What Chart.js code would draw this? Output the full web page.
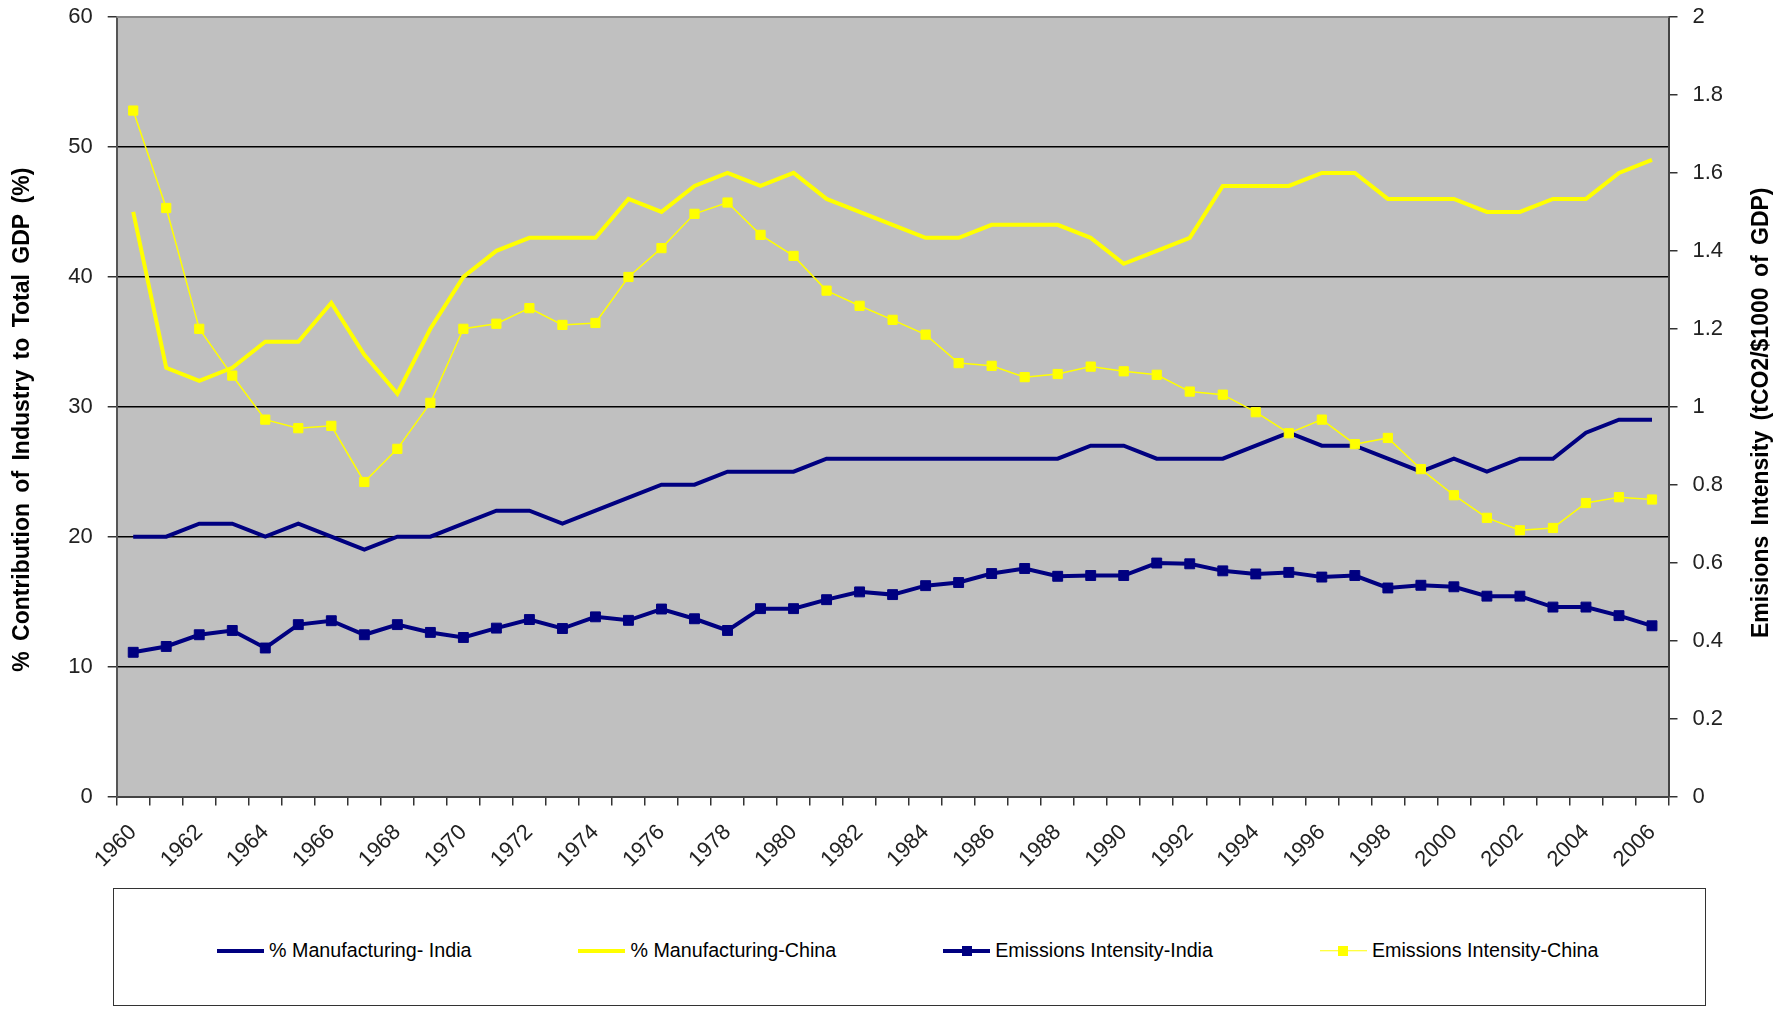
<!DOCTYPE html>
<html>
<head>
<meta charset="utf-8">
<script src="https://cdn.jsdelivr.net/npm/chart.js@4.4.1/dist/chart.umd.min.js"></script>
<style>
    body { margin: 0; background: #fff; font-family: "Liberation Sans", Arial, sans-serif; }
    #wrap { position: relative; width: 1790px; height: 1011px; overflow: hidden; }
    #chart { position: absolute; left: 0; top: 0; }
    #legend-box {
        position: absolute; left: 113px; top: 888px; width: 1593px; height: 118px;
        border: 1.5px solid #333; box-sizing: border-box;
    }
    #legend-items {
        position: absolute; left: 103px; top: 50px; display: flex; gap: 107px;
        align-items: center; font-size: 19.7px; color: #000;
    }
    .item { display: flex; align-items: center; white-space: nowrap; }
    .swatch { position: relative; width: 47px; height: 14px; margin-right: 5px; }
    .swatch .ln { position: absolute; left: 0; right: 0; top: 50%; transform: translateY(-50%); }
    .swatch .mk { position: absolute; left: 50%; top: 50%; width: 10px; height: 10px; transform: translate(-50%, -50%); }
</style>
</head>
<body>
<div id="wrap">
    <canvas id="chart" width="1790" height="880"></canvas>
    <div id="legend-box"><div id="legend-items"></div></div>
</div>
<script>
const years = [];
for (let y = 1960; y <= 2006; y++) years.push(String(y));

// % share of manufacturing in GDP (left axis)
const mfgIndia = [20, 20, 21, 21, 20, 21, 20, 19, 20, 20,
    21, 22, 22, 21, 22, 23, 24, 24, 25, 25,
    25, 26, 26, 26, 26, 26, 26, 26, 26, 27,
    27, 26, 26, 26, 27, 28, 27, 27, 26, 25,
    26, 25, 26, 26, 28, 29, 29];
const mfgChina = [45, 33, 32, 33, 35, 35, 38, 34, 31, 36,
    40, 42, 43, 43, 43, 46, 45, 47, 48, 47,
    48, 46, 45, 44, 43, 43, 44, 44, 44, 43,
    41, 42, 43, 47, 47, 47, 48, 48, 46, 46,
    46, 45, 45, 46, 46, 48, 49];

// tCO2 per $1000 of GDP (right axis)
const emIndia = [0.37, 0.385, 0.415, 0.426, 0.381, 0.441, 0.451, 0.415, 0.441, 0.421,
    0.408, 0.432, 0.454, 0.431, 0.461, 0.452, 0.481, 0.456, 0.426, 0.482,
    0.482, 0.505, 0.525, 0.518, 0.541, 0.549, 0.572, 0.585, 0.565, 0.567,
    0.567, 0.599, 0.597, 0.579, 0.571, 0.575, 0.563, 0.567, 0.535, 0.542,
    0.538, 0.514, 0.514, 0.486, 0.486, 0.464, 0.438];
const emChina = [1.76, 1.51, 1.20, 1.08, 0.967, 0.945, 0.951, 0.807, 0.892, 1.01,
    1.20, 1.213, 1.253, 1.21, 1.215, 1.333, 1.407, 1.495, 1.524, 1.441,
    1.387, 1.298, 1.259, 1.223, 1.185, 1.112, 1.105, 1.076, 1.084, 1.103,
    1.091, 1.082, 1.039, 1.031, 0.986, 0.932, 0.967, 0.904, 0.92, 0.84,
    0.773, 0.715, 0.683, 0.689, 0.753, 0.768, 0.762];

const leftTitle = '% Contribution of Industry to Total GDP (%)';
const rightTitle = 'Emisions Intensity (tCO2/$1000 of GDP)';

const NAVY = '#000080';
const YELLOW = '#FFFF00';
const tickFont = { family: '"Liberation Sans", Arial, sans-serif', size: 22 };

// grey plot area + border on top
const plotArea = {
    id: 'plotArea',
    beforeDraw(chart) {
        const { ctx, chartArea: a } = chart;
        ctx.save();
        ctx.fillStyle = '#C0C0C0';
        ctx.fillRect(a.left, a.top, a.right - a.left, a.bottom - a.top);
        ctx.restore();
    },
    afterDraw(chart) {
        const { ctx, chartArea: a } = chart;
        ctx.save();
        ctx.strokeStyle = '#8a8a8a';
        ctx.lineWidth = 2;
        ctx.beginPath();
        ctx.moveTo(a.left, a.top);
        ctx.lineTo(a.right, a.top);
        ctx.stroke();
        ctx.restore();
    }
};

// both axis titles read bottom-to-top
const axisTitles = {
    id: 'axisTitles',
    afterDraw(chart) {
        const { ctx, chartArea: a } = chart;
        const mid = (a.top + a.bottom) / 2;
        ctx.save();
        ctx.font = 'bold 23px "Liberation Sans", Arial, sans-serif';
        ctx.fillStyle = '#000';
        ctx.textAlign = 'center';
        ctx.textBaseline = 'middle';
        if ('wordSpacing' in ctx) ctx.wordSpacing = '4px';
        [[leftTitle, 23, mid + 13], [rightTitle, 1762, mid + 6]].forEach(([txt, x, y]) => {
            ctx.save();
            ctx.translate(x, y);
            ctx.rotate(-Math.PI / 2);
            ctx.fillText(txt, 0, 0);
            ctx.restore();
        });
        ctx.restore();
    }
};

const hideEdges = max => c => (c.tick.value === 0 || c.tick.value === max) ? 'rgba(0,0,0,0)' : '#000';

// fixed side widths; let the top label overhang instead of pushing the plot down
const fixSide = w => s => { s.width = w; s.paddingTop = 10; };

const chart = new Chart(document.getElementById('chart'), {
    type: 'line',
    data: {
        labels: years,
        datasets: [
            {
                label: '% Manufacturing- India',
                data: mfgIndia,
                yAxisID: 'y',
                borderColor: NAVY,
                backgroundColor: NAVY,
                borderWidth: 4,
                pointRadius: 0,
                order: 4
            },
            {
                label: '% Manufacturing-China',
                data: mfgChina,
                yAxisID: 'y',
                borderColor: YELLOW,
                backgroundColor: YELLOW,
                borderWidth: 4,
                pointRadius: 0,
                order: 3
            },
            {
                label: 'Emissions Intensity-India',
                data: emIndia,
                yAxisID: 'y1',
                borderColor: NAVY,
                backgroundColor: NAVY,
                borderWidth: 4,
                pointStyle: 'rect',
                pointRadius: 7,
                pointBorderWidth: 1,
                order: 2
            },
            {
                label: 'Emissions Intensity-China',
                data: emChina,
                yAxisID: 'y1',
                borderColor: YELLOW,
                backgroundColor: YELLOW,
                borderWidth: 1.5,
                pointStyle: 'rect',
                pointRadius: 6.5,
                pointBorderWidth: 1,
                order: 1
            }
        ]
    },
    options: {
        responsive: false,
        animation: false,
        devicePixelRatio: 1,
        layout: { padding: { top: 17, left: 0, right: 0, bottom: 0 } },
        plugins: { legend: { display: false }, tooltip: { enabled: false } },
        elements: { line: { tension: 0 } },
        scales: {
            x: {
                offset: true,
                grid: { offset: true, drawOnChartArea: false, tickLength: 9, color: '#333', lineWidth: 1.5 },
                border: { color: '#444', width: 2 },
                ticks: {
                    autoSkip: false, maxRotation: 45, minRotation: 45, padding: 14,
                    color: '#222', font: tickFont,
                    callback: (v, i) => i % 2 === 0 ? years[i] : ''
                },
                afterFit: s => { s.height = 83.5; }
            },
            y: {
                position: 'left',
                min: 0, max: 60,
                ticks: { stepSize: 10, padding: 15, color: '#222', font: tickFont },
                grid: { color: hideEdges(60), lineWidth: 1.5, tickLength: 9, tickColor: '#333' },
                border: { color: '#555', width: 2 },
                afterFit: fixSide(116.7)
            },
            y1: {
                position: 'right',
                min: 0, max: 2,
                ticks: {
                    stepSize: 0.2, padding: 15, color: '#222', font: tickFont,
                    callback: v => String(+v.toFixed(1))
                },
                grid: { drawOnChartArea: false, tickLength: 9, color: '#333', lineWidth: 1.5 },
                border: { color: '#444', width: 2 },
                afterFit: fixSide(121.5)
            }
        }
    },
    plugins: [plotArea, axisTitles]
});

// legend entries built from the chart's datasets
const legendEl = document.getElementById('legend-items');
chart.data.datasets.forEach(ds => {
    const item = document.createElement('div');
    item.className = 'item';
    const sw = document.createElement('span');
    sw.className = 'swatch';
    const ln = document.createElement('span');
    ln.className = 'ln';
    ln.style.height = Math.max(ds.borderWidth, 1.5) + 'px';
    ln.style.background = ds.borderColor;
    sw.appendChild(ln);
    if (ds.pointRadius > 0) {
        const mk = document.createElement('span');
        mk.className = 'mk';
        mk.style.background = ds.backgroundColor;
        sw.appendChild(mk);
    }
    item.appendChild(sw);
    item.appendChild(document.createTextNode(ds.label));
    legendEl.appendChild(item);
});
</script>
</body>
</html>
